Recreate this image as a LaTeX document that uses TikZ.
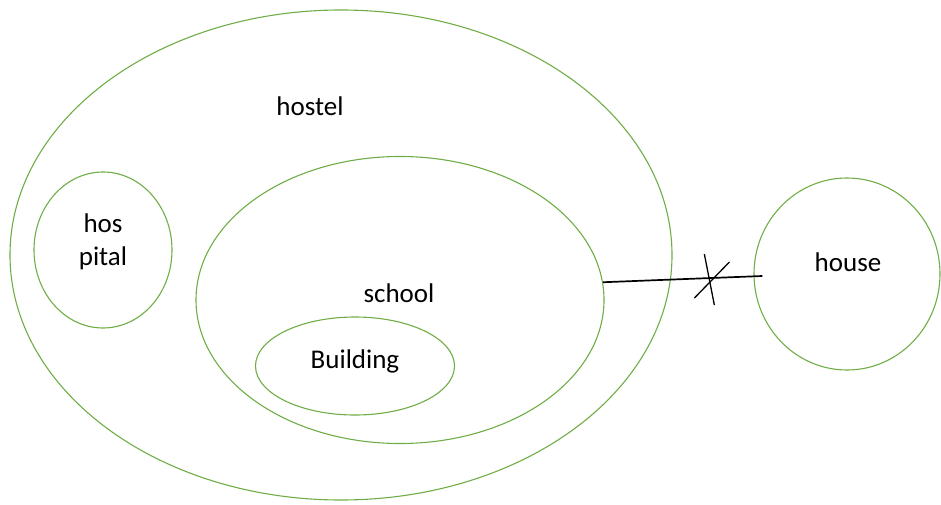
\documentclass[tikz,border=0pt]{standalone}
\usepackage{fontspec}
\setmainfont{Carlito}
\usetikzlibrary{shapes.geometric,calc}
\definecolor{ringline}{HTML}{70AD47}
\definecolor{ink}{HTML}{000000}

\begin{document}
\begin{tikzpicture}[
  x=1pt, y=-1pt,
  font=\fontsize{27}{33}\selectfont,
  ring/.style={ellipse, draw=ringline, line width=1.1pt, inner sep=0pt},
  tag/.style={text=ink, align=center, inner sep=0pt},
  link/.style={draw=ink, line width=1.7pt},
  cut/.style={draw=ink, line width=1.3pt}
]
\useasboundingbox (0,0) rectangle (941,505);

% ---------- Ellipsen ----------
\node[ring, minimum width=662pt, minimum height=490pt] (hostel) at (341,255) {};
\node[ring, minimum width=138pt, minimum height=156pt] (hospital) at (103,250) {};
\node[ring, minimum width=408pt, minimum height=287pt] (school) at (400,300) {};
\node[ring, minimum width=199pt, minimum height=98pt] (building) at (355,366) {};
\node[ring, minimum width=186pt, minimum height=192pt] (house) at (847,274) {};

% ---------- Beschriftungen ----------
\node[tag] (hostellbl) at (310,106) {hostel};
\node[tag] (hospitallbl) at (103,242) {hos\\pital};
\node[tag] (schoollbl) at (399,293) {school};
\node[tag] (buildinglbl) at (355,361) {Building};
\node[tag] (houselbl) at (848,262) {house};

% ---------- Verbindung mit Kreuz ----------
\draw[link] (school.5) -- coordinate[pos=0.667] (cross) ([xshift=9pt,yshift=-2pt]house.west);
\draw[cut] ($(cross)+(-5,-24)$) -- ($(cross)+(5,27)$);
\draw[cut] ($(cross)+(20,-16)$) -- ($(cross)+(-15,20)$);

\end{tikzpicture}
\end{document}
